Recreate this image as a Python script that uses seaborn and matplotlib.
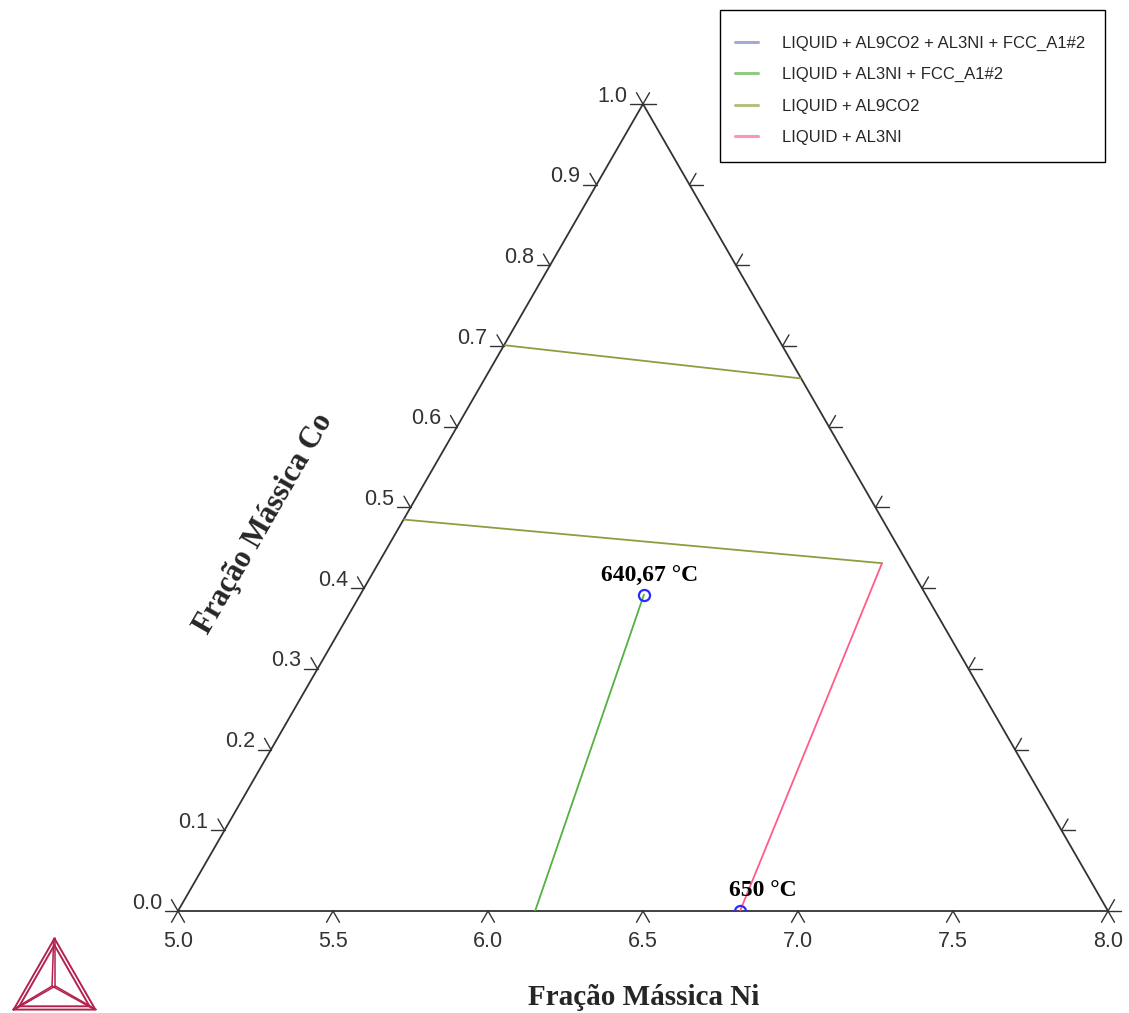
import numpy as np
import pandas as pd
import matplotlib
matplotlib.use("Agg")
import matplotlib.pyplot as plt
from matplotlib.lines import Line2D
from matplotlib.patches import Rectangle
import seaborn as sns

# -------------------- Data --------------------
phases = ["LIQUID + AL9CO2 + AL3NI + FCC_A1#2", "LIQUID + AL3NI + FCC_A1#2",
          "LIQUID + AL9CO2", "LIQUID + AL3NI"]
phase_colors = ["#6f7fc0", "#55b040", "#8aa040", "#ff5c88"]

# segments: x values (Ni), y values (Co)
green_x, green_y = [6.152, 6.503], [0.0, 0.392]
pink_x, pink_y = [6.813, 7.271], [0.0, 0.431]
olive1_x, olive1_y = [6.055, 7.008], [0.701, 0.660]
olive2_x, olive2_y = [5.73, 7.271], [0.485, 0.431]

point_x = [6.503, 6.813]
point_y = [0.392, 0.0]
point_labels = ["640,67 °C", "650 °C"]

x_ticks = [5.0, 5.5, 6.0, 6.5, 7.0, 7.5, 8.0]
y_ticks = [0.0, 0.1, 0.2, 0.3, 0.4, 0.5, 0.6, 0.7, 0.8, 0.9, 1.0]

segs = pd.DataFrame({
    "x": green_x + pink_x + olive1_x + olive2_x,
    "y": green_y + pink_y + olive1_y + olive2_y,
    "phase": [phases[1]] * 2 + [phases[3]] * 2 + [phases[2]] * 4,
    "seg": [0, 0, 1, 1, 2, 2, 3, 3],
})

# -------------------- Figure --------------------
sns.set_theme(style="white")
plt.rcParams["font.family"] = ["Liberation Sans", "DejaVu Sans"]

W, H = 1129, 1013
fig = plt.figure(figsize=(W / 100, H / 100), dpi=100)
ax = fig.add_axes([178 / W, 102 / H, 930 / W, 807 / H])
ax.set_xlim(5.0, 8.0)
ax.set_ylim(0.0, 1.0)
ax.axis("off")

# triangle frame
frame_c = "#333333"
ax.plot([5.0, 8.0, 6.5, 5.0], [0.0, 0.0, 1.0, 0.0], color=frame_c, lw=1.3,
        clip_on=False, solid_capstyle="butt")

# ternary-style ticks
k = 0.014
tick_kw = dict(color=frame_c, lw=1.0, clip_on=False)
for xv in x_ticks:
    for d in [(-1.5, -1.0), (1.5, -1.0)]:
        ax.plot([xv, xv + d[0] * k], [0, d[1] * k], **tick_kw)
    ax.annotate(f"{xv:.1f}", (xv, 0), xytext=(0, -30), textcoords="offset pixels",
                ha="center", va="center", fontsize=15.5, color="#333333",
                annotation_clip=False)
for yv in y_ticks:
    xl = 5.0 + 1.5 * yv
    xr = 8.0 - 1.5 * yv
    for d in [(-3.0, 0.0), (-1.5, 1.0)]:
        ax.plot([xl, xl + d[0] * k], [yv, yv + d[1] * k], **tick_kw)
    for d in [(3.0, 0.0), (1.5, 1.0)]:
        ax.plot([xr, xr + d[0] * k], [yv, yv + d[1] * k], **tick_kw)
    ax.annotate(f"{yv:.1f}", (xl, yv), xytext=(-16, 8), textcoords="offset pixels",
                ha="right", va="center", fontsize=15.5, color="#333333",
                annotation_clip=False)

# phase boundary lines
sns.lineplot(data=segs, x="x", y="y", hue="phase", units="seg", estimator=None,
             sort=False, palette=dict(zip(phases, phase_colors)), lw=1.3,
             legend=False, ax=ax)

# invariant points
ax.plot(point_x, point_y, "o", ms=8, mfc="none", mec="#2a2aff", mew=1.6)
offsets = [(6, 18), (23, 21)]
for px, py, lab, off in zip(point_x, point_y, point_labels, offsets):
    ax.annotate(lab, (px, py), xytext=off, textcoords="offset pixels",
                ha="center", va="center", fontsize=17, fontweight="bold",
                family="Liberation Serif", color="black", annotation_clip=False)

# legend (frame drawn separately)
fig.patches.append(Rectangle((720 / W, 1 - 162 / H), 385 / W, 152 / H,
                             transform=fig.transFigure, fill=False,
                             edgecolor="black", lw=1.0))
handles = [Line2D([], [], color=c, lw=2.2, alpha=0.65) for c in phase_colors]
fig.legend(handles, phases, loc="upper left",
           bbox_to_anchor=(735 / W, 1 - 36 / H), bbox_transform=fig.transFigure,
           borderaxespad=0, borderpad=0, fontsize=12, frameon=False,
           handlelength=1.4, handletextpad=1.4, labelspacing=0.97)

# axis titles
fig.text(644 / W, 1 - 997 / H, "Fração Mássica Ni", ha="center", va="center",
         fontsize=21, fontweight="bold", family="Liberation Serif")
fig.text(264 / W, 1 - 524 / H, "Fração Mássica Co", ha="center", va="center",
         fontsize=22, fontweight="bold", family="Liberation Serif", rotation=60)

# logo
lax = fig.add_axes([12 / W, 2 / H, 85 / W, 74 / H])
lax.set_xlim(-0.02, 1.02)
lax.set_ylim(-0.02, 1.02)
lax.axis("off")
logo_c = "#b3224f"
vx = np.array([0.0, 1.0, 0.5])
vy = np.array([0.0, 0.0, 1.0])
cx, cy = 0.49, 0.33
for s in [1.0, 0.86]:
    tx = cx + (vx - cx) * s
    ty = cy + (vy - cy) * s
    lax.plot(np.r_[tx, tx[0]], np.r_[ty, ty[0]], color=logo_c, lw=1.4)
for dx in [-0.02, 0.02]:
    for x0, y0 in zip(vx, vy):
        lax.plot([cx + dx, x0 + dx * 0.5], [cy, y0], color=logo_c, lw=1.1)

fig.savefig("out.png", dpi=100)
